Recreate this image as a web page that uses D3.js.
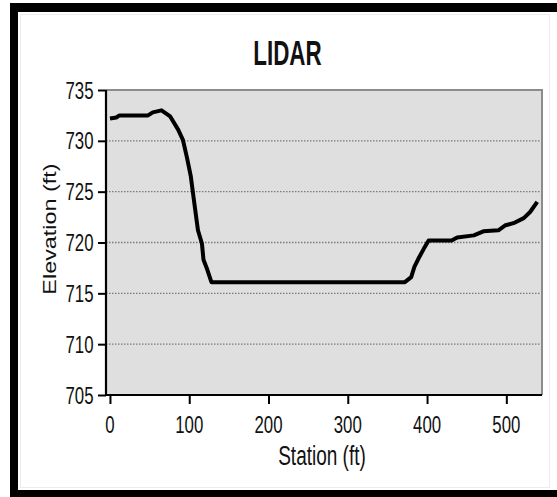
<!DOCTYPE html>
<html>
<head>
<meta charset="utf-8">
<script src="https://cdn.jsdelivr.net/npm/d3@7"></script>
<style>
  html, body { margin: 0; padding: 0; background: #fff; }
  svg { display: block; }
  text { font-family: "Liberation Sans", Arial, sans-serif; fill: #111; }
</style>
</head>
<body>
<svg id="chart" width="557" height="497"></svg>
<script>
// Cross-section profile (station vs. ground elevation)
const station   = [0, 8, 12, 48, 54, 65, 76, 86, 92, 97, 102, 105, 111, 116, 118, 122, 128,
                   372, 380, 384, 389, 396, 402, 431, 438, 459, 471, 490, 499, 509, 522, 530, 539];
const elevation = [732.2, 732.3, 732.5, 732.5, 732.8, 733.0, 732.4, 731.1, 730.1, 728.4, 726.5, 724.7, 721.2, 719.9, 718.3, 717.5, 716.1,
                   716.1, 716.6, 717.6, 718.4, 719.4, 720.2, 720.2, 720.5, 720.7, 721.1, 721.2, 721.7, 721.9, 722.4, 723.0, 724.0];
const xTicks = [0, 100, 200, 300, 400, 500];
const yTicks = [705, 710, 715, 720, 725, 730, 735];

const title = "LIDAR";
const xTitle = "Station (ft)";
const yTitle = "Elevation (ft)";

const svg = d3.select("#chart");
const plot = { left: 106, right: 542, top: 90, bottom: 395 };
const stretch = 1.42;

const x = d3.scaleLinear().domain([-5, 545]).range([plot.left, plot.right]);
const y = d3.scaleLinear().domain([705, 735]).range([plot.bottom, plot.top]);

// outer frame
svg.append("rect").attr("x", 10).attr("y", 3).attr("width", 547).attr("height", 494).attr("fill", "#000");
svg.append("rect").attr("x", 18).attr("y", 12).attr("width", 539).attr("height", 478).attr("fill", "#fff");
svg.append("rect").attr("x", 20.5).attr("y", 14.5).attr("width", 529).attr("height", 473)
  .attr("fill", "none").attr("stroke", "#ececec").attr("stroke-width", 1);

// plot background
svg.append("rect")
  .attr("x", plot.left).attr("y", plot.top)
  .attr("width", plot.right - plot.left).attr("height", plot.bottom - plot.top)
  .attr("fill", "#dfdfdf");

// dotted grid
svg.append("g").selectAll("line")
  .data(yTicks.filter(t => t > 705 && t < 735))
  .join("line")
  .attr("x1", plot.left).attr("x2", plot.right)
  .attr("y1", d => y(d)).attr("y2", d => y(d))
  .attr("stroke", "#7a7a7a").attr("stroke-width", 1.3)
  .attr("stroke-dasharray", "1.5,1.5");

// top/right border
svg.append("path")
  .attr("d", `M${plot.left},${plot.top}H${plot.right}V${plot.bottom}`)
  .attr("fill", "none").attr("stroke", "#8c8c8c").attr("stroke-width", 2);

// axes
const yAxis = d3.axisLeft(y).tickValues(yTicks).tickSize(8).tickFormat("");
const xAxis = d3.axisBottom(x).tickValues(xTicks).tickSize(9).tickSizeOuter(0).tickFormat("");
const gy = svg.append("g").attr("transform", `translate(${plot.left},0)`).call(yAxis);
const gx = svg.append("g").attr("transform", `translate(0,${plot.bottom})`).call(xAxis);
[gy, gx].forEach(g => {
  g.selectAll("line").attr("stroke", "#000").attr("stroke-width", 2);
  g.select(".domain").attr("stroke", "#000").attr("stroke-width", 2.2);
});
gy.select(".domain").attr("d", `M0,${plot.top}V${plot.bottom}`);
gx.select(".domain").attr("d", `M${plot.left},0H${plot.right}`);

// tick labels
svg.append("g").selectAll("text")
  .data(yTicks).join("text")
  .attr("transform", d => `translate(93.5,${y(d)}) scale(1,${stretch})`)
  .attr("text-anchor", "end").attr("dy", "0.36em")
  .attr("font-size", 16.8)
  .text(d => d);
svg.append("g").selectAll("text")
  .data(xTicks).join("text")
  .attr("transform", d => `translate(${x(d)},432.5) scale(1,${stretch})`)
  .attr("text-anchor", "middle")
  .attr("font-size", 16.8)
  .text(d => d);

// titles
svg.append("text")
  .attr("transform", `translate(287.5,65) scale(1,1.55)`)
  .attr("text-anchor", "middle").attr("font-weight", "bold").attr("font-size", 22.4)
  .text(title);
svg.append("text")
  .attr("transform", `translate(322,465) scale(1,${stretch})`)
  .attr("text-anchor", "middle").attr("font-size", 19)
  .text(xTitle);
svg.append("text")
  .attr("transform", `translate(55.5,229) scale(1,1.3) rotate(-90)`)
  .attr("text-anchor", "middle").attr("font-size", 18)
  .text(yTitle);

// profile line
const line = d3.line().x((d, i) => x(station[i])).y(d => y(d));
svg.append("path")
  .datum(elevation)
  .attr("d", line)
  .attr("fill", "none").attr("stroke", "#000").attr("stroke-width", 4)
  .attr("stroke-linejoin", "round");
</script>
</body>
</html>
